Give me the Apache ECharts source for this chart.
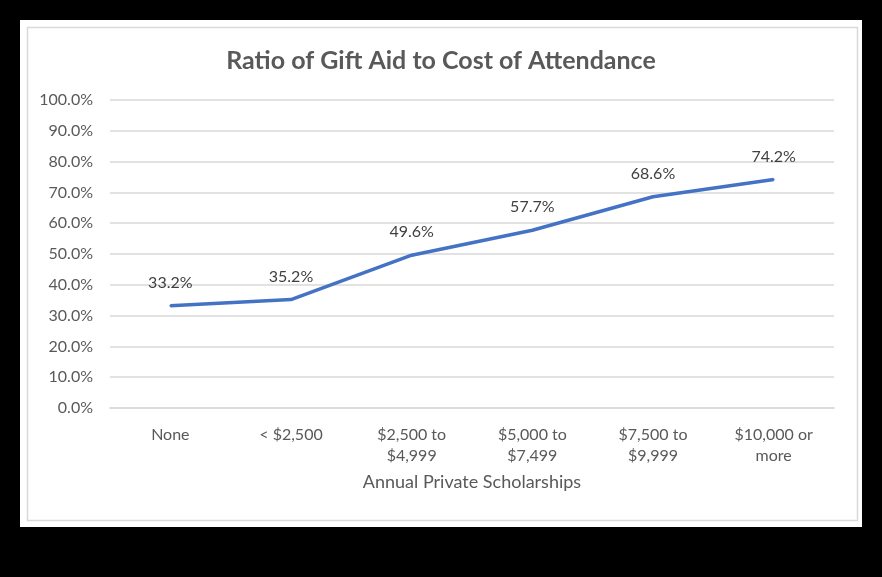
<!DOCTYPE html>
<html>
<head>
<meta charset="utf-8">
<script src="https://cdn.jsdelivr.net/npm/echarts@6/dist/echarts.min.js"></script>
<style>
html,body{margin:0;padding:0;background:#000;}
#c{width:882px;height:577px;}
</style>
</head>
<body>
<div id="c"></div>
<script>
var categories = ["None", "< $2,500", "$2,500 to\n$4,999", "$5,000 to\n$7,499", "$7,500 to\n$9,999", "$10,000 or\nmore"];
var ratioValues = [33.2, 35.2, 49.6, 57.7, 68.6, 74.2];
var chartTitle = "Ratio of Gift Aid to Cost of Attendance";
var xAxisTitle = "Annual Private Scholarships";

var FONT = "Lato, 'Open Sans', sans-serif";
var chart = echarts.init(document.getElementById('c'), null, {renderer: 'canvas'});
chart.setOption({
  backgroundColor: '#000',
  animation: false,
  graphic: [
    {type: 'rect', z: -10, shape: {x: 20, y: 20, width: 842, height: 507}, style: {fill: '#fff'}},
    {type: 'rect', z: -9, shape: {x: 27.5, y: 27.5, width: 830, height: 493}, style: {fill: 'none', stroke: '#d9d9d9', lineWidth: 1.5}}
  ],
  title: {
    text: chartTitle,
    left: 'center',
    top: 43,
    textStyle: {fontFamily: FONT, fontSize: 25, fontWeight: 'bold', color: '#595959'}
  },
  grid: {left: 110, right: 48, top: 100, bottom: 169, containLabel: false},
  xAxis: {
    type: 'category',
    data: categories,
    boundaryGap: true,
    name: xAxisTitle,
    nameLocation: 'middle',
    nameGap: 65,
    nameTextStyle: {fontFamily: FONT, fontSize: 18, color: '#595959'},
    axisLine: {lineStyle: {color: '#d9d9d9', width: 1.5}},
    axisTick: {show: false},
    axisLabel: {fontFamily: FONT, fontSize: 16, color: '#595959', margin: 16, lineHeight: 21, interval: 0}
  },
  yAxis: {
    type: 'value',
    min: 0, max: 100, interval: 10,
    axisLine: {show: false},
    axisTick: {show: false},
    splitLine: {lineStyle: {color: '#d9d9d9', width: 1.5}},
    axisLabel: {fontFamily: FONT, fontSize: 16, color: '#595959', margin: 17,
      formatter: function (v) { return v.toFixed(1) + '%'; }}
  },
  series: [{
    type: 'line',
    data: ratioValues,
    symbol: 'circle',
    symbolSize: 2,
    showSymbol: true,
    showAllSymbol: true,
    itemStyle: {color: '#4472C4', borderWidth: 0},
    lineStyle: {color: '#4472C4', width: 3.5},
    label: {
      show: true, position: 'top', distance: 14,
      fontFamily: FONT, fontSize: 16, color: '#404040',
      formatter: function (p) { return p.value.toFixed(1) + '%'; }
    }
  }]
});
</script>
</body>
</html>
